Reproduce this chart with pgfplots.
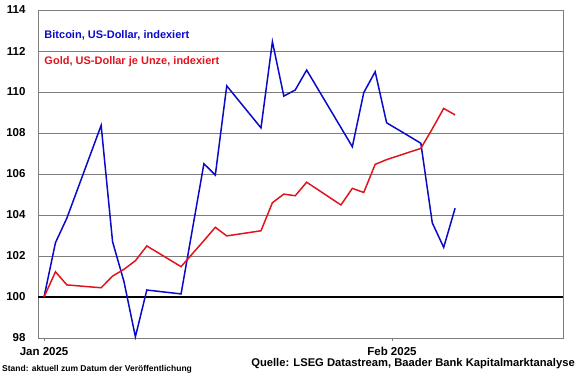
\documentclass[border=0pt]{standalone}
\usepackage{pgfplots}
\pgfplotsset{compat=1.18}
\usepackage{fontspec}
\setmainfont{Liberation Sans}
\definecolor{btc}{RGB}{10,10,200}
\definecolor{gld}{RGB}{225,20,30}
\definecolor{gridc}{RGB}{125,125,125}
\begin{document}
\begin{tikzpicture}
\useasboundingbox (0pt,0pt) rectangle (580pt,375pt);
\begin{axis}[
  at={(38pt,37pt)}, anchor=south west,
  scale only axis, width=525pt, height=328pt,
  xmin=-0.53, xmax=45.45, ymin=98, ymax=114,
  ytick={98,100,...,114},
  xtick={0,30.47}, xticklabels={Jan 2025,Feb 2025},
  ymajorgrids, major grid style={gridc, line width=0.8pt},
  axis line style={gridc, line width=0.8pt},
  ytick style={draw=none},
  xtick style={gridc, line width=0.6pt},
  tick align=outside, major tick length=3pt,
  xtick pos=bottom,
  tick label style={font=\bfseries\fontsize{11.5}{12}\selectfont},
  /pgf/number format/assume math mode=true,
  yticklabel style={xshift=-6pt},
  xticklabel style={yshift=-3pt},
  extra y ticks={100}, extra y tick labels={},
  extra y tick style={grid=major, major grid style={black, line width=1.4pt}},
  clip=false,
]
\addplot[btc, line width=1.5pt] coordinates {
(0,100) (1,102.65) (2,103.85) (5,108.37) (6,102.7) (7,100.75) (8,98.06) (9,100.34)
(12,100.15) (14,106.5) (15,105.95) (16,110.3) (19,108.25) (20,112.45) (21,109.8)
(22,110.1) (23,111.07) (27,107.33) (28,109.97) (29,110.99) (30,108.5) (33,107.5)
(34,103.62) (35,102.42) (36,104.33)};
\addplot[gld, line width=1.5pt] coordinates {
(0,100) (1,101.23) (2,100.59) (5,100.45) (6,101.02) (7,101.35) (8,101.77) (9,102.49)
(12,101.48) (14,102.75) (15,103.4) (16,102.98) (19,103.23) (20,104.6) (21,105.02)
(22,104.94) (23,105.6) (26,104.49) (27,105.3) (28,105.1) (29,106.47) (30,106.7)
(33,107.25) (34,108.2) (35,109.2) (36,108.88)};
\node[anchor=west, text=btc, font=\bfseries\fontsize{11}{12}\selectfont, inner sep=0] at (rel axis cs:0.012,0.924) {Bitcoin, US-Dollar, indexiert};
\node[anchor=west, text=gld, font=\bfseries\fontsize{11}{12}\selectfont, inner sep=0] at (rel axis cs:0.012,0.841) {Gold, US-Dollar je Unze, indexiert};
\end{axis}
\node[anchor=west, font=\bfseries\fontsize{8.5}{9}\selectfont, inner sep=0] at (2pt,6pt) {Stand: aktuell zum Datum der Veröffentlichung};
\node[anchor=east, font=\bfseries\fontsize{11.2}{12}\selectfont, inner sep=0] at (575pt,11pt) {Quelle: LSEG Datastream, Baader Bank Kapitalmarktanalyse};
\end{tikzpicture}
\end{document}
